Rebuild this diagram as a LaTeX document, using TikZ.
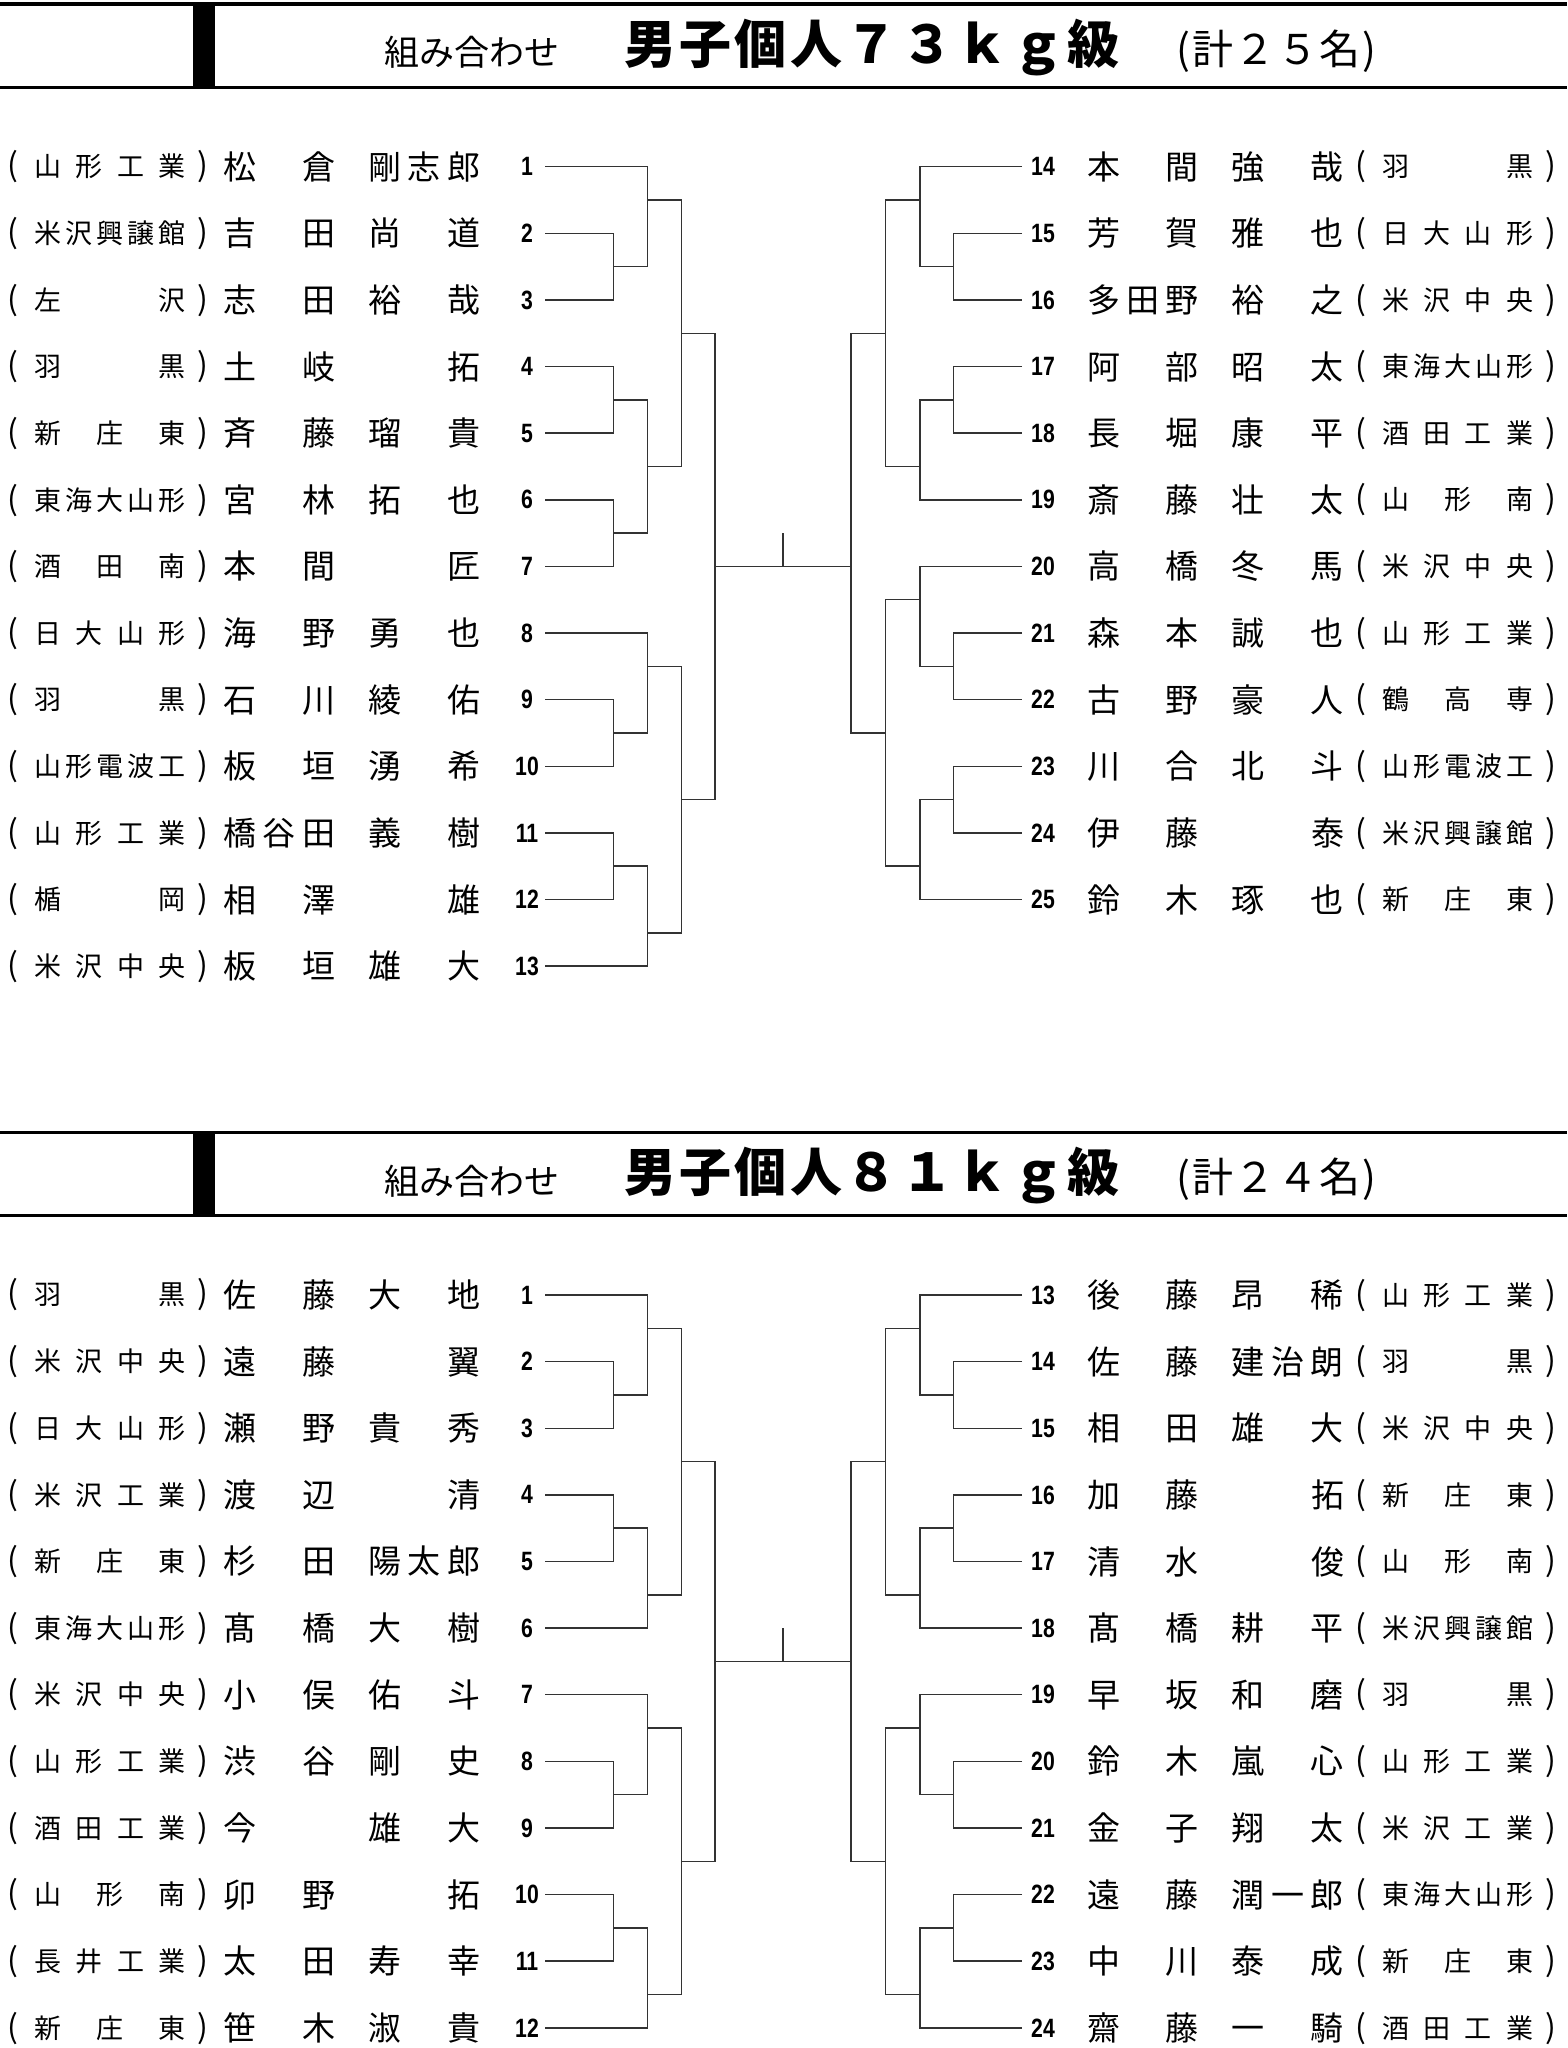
\documentclass[tikz,border=0pt]{standalone}
\usepackage{fontspec}
\newfontfamily\jp{Noto Sans CJK JP}
\newfontfamily\numf{Liberation Sans}

\makeatletter
\newcommand\spreadchars[1]{\let\sp@sep\relax\@tfor\sp@c:=#1\do{\sp@sep\sp@c\let\sp@sep\hfill}}
\newcommand\trk[2]{\def\trk@k{\kern#1}\let\trk@sep\relax\@tfor\trk@c:=#2\do{\trk@sep\trk@c\let\trk@sep\trk@k}}
\makeatother

\newcommand\FAM[1]{\hbox to 112pt{\spreadchars{#1}\hskip 0pt plus .001fil}}
\newcommand\GIV[1]{\hbox to 112pt{\hskip 0pt plus .001fil\spreadchars{#1}}}
\newcommand\NM[2]{\FAM{#1}\kern33pt\GIV{#2}}
\newcommand\PR[1]{{\fontsize{32pt}{32pt}\selectfont #1}}
\newcommand\SC[1]{\smash{\llap{\PR{(}\kern16pt}}\hbox to 151pt{\spreadchars{#1}}\smash{\rlap{\kern12pt\PR{)}}}}
\newcommand\NB[1]{\scalebox{0.8}[1]{#1}}

\tikzset{
 nmtext/.style={inner sep=0pt, font=\jp\fontsize{33pt}{33pt}\selectfont},
 sctext/.style={inner sep=0pt, font=\jp\fontsize{27pt}{27pt}\selectfont},
 nbtext/.style={inner sep=0pt, font=\numf\bfseries\fontsize{26.5pt}{26.5pt}\selectfont},
 brkline/.style={line width=1.5pt, draw=black!80},
 rulebar/.style={line width=3.4pt, draw=black},
 ttlA/.style={inner sep=0pt, font=\jp\fontsize{35pt}{35pt}\selectfont},
 ttlB/.style={inner sep=0pt, font=\jp\bfseries\fontsize{52pt}{52pt}\selectfont},
 ttlC/.style={inner sep=0pt, font=\jp\fontsize{41pt}{41pt}\selectfont},
}

\newcommand\brk[5]{\draw[brkline] (#1,{ry(#2)}) -| (#3,{ry(#4)}) -- (#5,{ry(#4)});}
\newcommand\Lrow[5]{%
 \node[sctext] (#1s#2) at (110,{ry(#2)}) {\SC{#3}};
 \node[nmtext] (#1n#2) at (352,{ry(#2)}) {\NM{#4}{#5}};
 \node[nbtext] (#1k#2) at (527,{ry(#2)}) {\NB{#2}};}
\newcommand\Rrow[6]{%
 \node[nbtext] (#1k#3) at (1043,{ry(#2)}) {\NB{#3}};
 \node[nmtext] (#1n#3) at (1215.5,{ry(#2)}) {\NM{#4}{#5}};
 \node[sctext] (#1s#3) at (1457.5,{ry(#2)}) {\SC{#6}};}
\newcommand\header[3]{%
 \draw[rulebar] (0,4) -- (1567,4);
 \draw[rulebar] (0,87.3) -- (1567,87.3);
 \fill (193,4) rectangle (215,87.3);
 \node[ttlA] (#1a) at (472,52.5) {組み合わせ};
 \node[ttlB] (#1b) at (872,47.5) {\trk{3.5pt}{#2}};
 \node[ttlC] (#1c) at (1276.5,51) {\trk{1.5pt}{#3}};}

\begin{document}
\begin{tikzpicture}[x=1pt,y=-1pt,line cap=butt,
  declare function={ry(\k)=166.7+66.62*(\k-1);}]
\useasboundingbox (0,0) rectangle (1567,2048);

% ================= Section 1 : 73kg =================
\header{a}{男子個人７３ｋｇ級}{(計２５名)}

\Lrow{a}{1}{山形工業}{松倉}{剛志郎}
\Lrow{a}{2}{米沢興譲館}{吉田}{尚道}
\Lrow{a}{3}{左沢}{志田}{裕哉}
\Lrow{a}{4}{羽黒}{土岐}{拓}
\Lrow{a}{5}{新庄東}{斉藤}{瑠貴}
\Lrow{a}{6}{東海大山形}{宮林}{拓也}
\Lrow{a}{7}{酒田南}{本間}{匠}
\Lrow{a}{8}{日大山形}{海野}{勇也}
\Lrow{a}{9}{羽黒}{石川}{綾佑}
\Lrow{a}{10}{山形電波工}{板垣}{湧希}
\Lrow{a}{11}{山形工業}{橋谷田}{義樹}
\Lrow{a}{12}{楯岡}{相澤}{雄}
\Lrow{a}{13}{米沢中央}{板垣}{雄大}

\Rrow{a}{1}{14}{本間}{強哉}{羽黒}
\Rrow{a}{2}{15}{芳賀}{雅也}{日大山形}
\Rrow{a}{3}{16}{多田野}{裕之}{米沢中央}
\Rrow{a}{4}{17}{阿部}{昭太}{東海大山形}
\Rrow{a}{5}{18}{長堀}{康平}{酒田工業}
\Rrow{a}{6}{19}{斎藤}{壮太}{山形南}
\Rrow{a}{7}{20}{高橋}{冬馬}{米沢中央}
\Rrow{a}{8}{21}{森本}{誠也}{山形工業}
\Rrow{a}{9}{22}{古野}{豪人}{鶴高専}
\Rrow{a}{10}{23}{川合}{北斗}{山形電波工}
\Rrow{a}{11}{24}{伊藤}{泰}{米沢興譲館}
\Rrow{a}{12}{25}{鈴木}{琢也}{新庄東}

% left brackets
\brk{545}{2}{613.5}{3}{545}
\brk{545}{4}{613.5}{5}{545}
\brk{545}{6}{613.5}{7}{545}
\brk{545}{1}{647.5}{2.5}{613.5}
\brk{613.5}{4.5}{647.5}{6.5}{613.5}
\brk{647.5}{1.5}{681.5}{5.5}{647.5}
\brk{545}{9}{613.5}{10}{545}
\brk{545}{11}{613.5}{12}{545}
\brk{545}{8}{647.5}{9.5}{613.5}
\brk{613.5}{11.5}{647.5}{13}{545}
\brk{647.5}{8.5}{681.5}{12.5}{647.5}
\brk{681.5}{3.5}{715}{10.5}{681.5}
% right brackets
\brk{1022}{2}{953.5}{3}{1022}
\brk{1022}{4}{953.5}{5}{1022}
\brk{1022}{1}{920}{2.5}{953.5}
\brk{953.5}{4.5}{920}{6}{1022}
\brk{920}{1.5}{885.5}{5.5}{920}
\brk{1022}{8}{953.5}{9}{1022}
\brk{1022}{10}{953.5}{11}{1022}
\brk{1022}{7}{920}{8.5}{953.5}
\brk{953.5}{10.5}{920}{12}{1022}
\brk{920}{7.5}{885.5}{11.5}{920}
\brk{885.5}{3.5}{851}{9.5}{885.5}
% final
\draw[brkline] (715,{ry(7)}) -- (851,{ry(7)});
\draw[brkline] (783,{ry(6.5)}) -- (783,{ry(7)});

% ================= Section 2 : 81kg =================
\begin{scope}[yshift=-1128.3pt]
\header{b}{男子個人８１ｋｇ級}{(計２４名)}

\Lrow{b}{1}{羽黒}{佐藤}{大地}
\Lrow{b}{2}{米沢中央}{遠藤}{翼}
\Lrow{b}{3}{日大山形}{瀬野}{貴秀}
\Lrow{b}{4}{米沢工業}{渡辺}{清}
\Lrow{b}{5}{新庄東}{杉田}{陽太郎}
\Lrow{b}{6}{東海大山形}{髙橋}{大樹}
\Lrow{b}{7}{米沢中央}{小俣}{佑斗}
\Lrow{b}{8}{山形工業}{渋谷}{剛史}
\Lrow{b}{9}{酒田工業}{今}{雄大}
\Lrow{b}{10}{山形南}{卯野}{拓}
\Lrow{b}{11}{長井工業}{太田}{寿幸}
\Lrow{b}{12}{新庄東}{笹木}{淑貴}

\Rrow{b}{1}{13}{後藤}{昂稀}{山形工業}
\Rrow{b}{2}{14}{佐藤}{建治朗}{羽黒}
\Rrow{b}{3}{15}{相田}{雄大}{米沢中央}
\Rrow{b}{4}{16}{加藤}{拓}{新庄東}
\Rrow{b}{5}{17}{清水}{俊}{山形南}
\Rrow{b}{6}{18}{髙橋}{耕平}{米沢興譲館}
\Rrow{b}{7}{19}{早坂}{和磨}{羽黒}
\Rrow{b}{8}{20}{鈴木}{嵐心}{山形工業}
\Rrow{b}{9}{21}{金子}{翔太}{米沢工業}
\Rrow{b}{10}{22}{遠藤}{潤一郎}{東海大山形}
\Rrow{b}{11}{23}{中川}{泰成}{新庄東}
\Rrow{b}{12}{24}{齋藤}{一騎}{酒田工業}

% left brackets
\brk{545}{2}{613.5}{3}{545}
\brk{545}{4}{613.5}{5}{545}
\brk{545}{8}{613.5}{9}{545}
\brk{545}{10}{613.5}{11}{545}
\brk{545}{1}{647.5}{2.5}{613.5}
\brk{613.5}{4.5}{647.5}{6}{545}
\brk{545}{7}{647.5}{8.5}{613.5}
\brk{613.5}{10.5}{647.5}{12}{545}
\brk{647.5}{1.5}{681.5}{5.5}{647.5}
\brk{647.5}{7.5}{681.5}{11.5}{647.5}
\brk{681.5}{3.5}{715}{9.5}{681.5}
% right brackets
\brk{1022}{2}{953.5}{3}{1022}
\brk{1022}{4}{953.5}{5}{1022}
\brk{1022}{8}{953.5}{9}{1022}
\brk{1022}{10}{953.5}{11}{1022}
\brk{1022}{1}{920}{2.5}{953.5}
\brk{953.5}{4.5}{920}{6}{1022}
\brk{1022}{7}{920}{8.5}{953.5}
\brk{953.5}{10.5}{920}{12}{1022}
\brk{920}{1.5}{885.5}{5.5}{920}
\brk{920}{7.5}{885.5}{11.5}{920}
\brk{885.5}{3.5}{851}{9.5}{885.5}
% final
\draw[brkline] (715,{ry(6.5)}) -- (851,{ry(6.5)});
\draw[brkline] (783,{ry(6)}) -- (783,{ry(6.5)});
\end{scope}
\end{tikzpicture}
\end{document}
